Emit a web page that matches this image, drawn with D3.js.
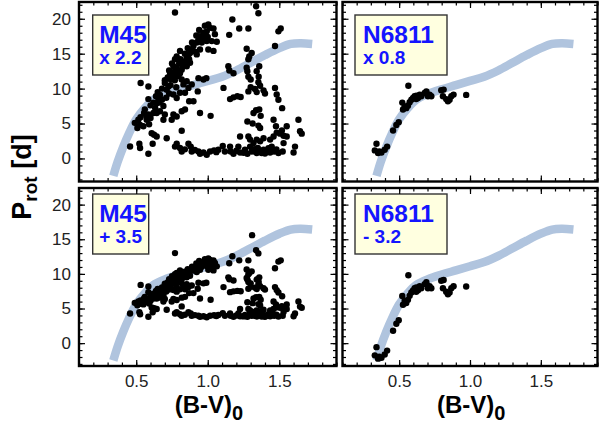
<!DOCTYPE html>
<html><head><meta charset="utf-8">
<script src="https://cdn.jsdelivr.net/npm/d3@7"></script>
<style>body{margin:0;background:#fff} svg{display:block}</style>
</head><body><svg id="c" width="599" height="430"></svg>
<script>
// ---- data ----
const bvTicks = [0.5, 1.0, 1.5];
const pTicks = [0, 5, 10, 15, 20];
const clusterNames = ["M45", "N6811"];
const topNotes = ["x 2.2", "x 0.8"];
const bottomNotes = ["+ 3.5", "- 3.2"];
const m45Scale = 2.2, m45Shift = 3.5, n6811Scale = 0.8, n6811Shift = -3.2;

// gyrochronology reference band (B-V)_0 , P_rot
const curveBV = [0.34,0.37,0.41,0.45,0.5,0.56,0.62,0.7,0.8,0.9,1.0,1.1,1.2,1.3,1.4,1.5,1.58,1.65,1.73];
const curveP  = [-2.5,-0.5,1.7,3.6,5.6,7.2,8.4,9.2,9.9,10.5,11.1,11.7,12.6,13.7,14.8,15.8,16.4,16.5,16.4];

// M45 stars: [(B-V)_0, P_rot scaled x2.2]
const m45Stars = [
[0.457,1.72],[0.522,2.1],[0.527,1.5],[0.585,0.67],[0.615,2.1],[0.49,5.1],[0.515,5.55],[0.527,4.8],
[0.55,4.6],[0.508,4.35],[0.573,5.55],[0.585,6.3],[0.555,6.5],[0.608,3.6],[0.625,3.4],[0.643,3.15],
[0.6,5.8],[0.62,6.5],[0.633,7.2],[0.643,7.9],[0.655,8.4],[0.638,8.9],[0.666,9.1],[0.68,8.4],
[0.69,7.5],[0.666,6.75],[0.7,6.3],[0.713,9.85],[0.725,10.3],[0.7,10.8],[0.741,11.3],[0.76,11.8],
[0.736,12.0],[0.771,12.5],[0.783,13.0],[0.76,13.2],[0.795,11.8],[0.806,12.2],[0.818,12.7],[0.83,13.2],
[0.771,14.2],[0.783,14.6],[0.841,13.9],[0.853,14.4],[0.865,14.9],[0.876,15.1],[0.888,15.6],[0.9,16.1],
[0.923,16.6],[0.935,17.0],[0.946,17.5],[0.97,18.0],[0.981,17.7],[0.993,18.2],[1.004,19.2],[1.016,18.7],
[1.04,18.6],[0.958,16.6],[0.993,16.8],[1.028,16.8],[1.063,16.7],[1.004,15.6],[1.04,15.4],[0.946,15.6],
[0.923,14.9],[0.876,13.7],[0.853,13.2],[0.818,11.3],[0.83,10.6],[0.853,11.05],[0.806,9.4],[0.76,9.15],
[0.783,8.66],[0.841,9.4],[0.865,10.1],[0.888,10.6],[0.935,11.5],[0.97,11.3],[0.9,8.2],[0.946,6.5],
[1.02,6.1],[0.76,6.3],[0.783,6.0],[0.818,6.75],[0.841,7.0],[0.748,5.55],[0.818,3.97],[0.713,2.9],
[0.806,15.4],[0.771,20.9],[0.643,6.5],[0.69,5.55],[0.585,8.5],[0.585,10.3],[0.531,10.8],[0.56,7.0],
[0.6,7.6],[0.62,8.0],[0.65,9.5],[0.68,10.0],[0.7,11.2],[0.72,11.6],[0.73,12.6],[0.75,12.3],
[0.75,13.6],[0.77,11.2],[0.79,12.4],[0.8,13.6],[0.81,14.2],[0.82,13.5],[0.84,15.0],[0.86,15.8],
[0.87,14.2],[0.89,16.6],[0.91,15.3],[0.92,17.6],[0.94,18.4],[0.96,17.2],[0.98,19.0],[1.0,17.4],
[1.05,17.8],[0.53,5.9],[0.57,6.1],[0.59,4.9],[0.66,8.0],[0.71,8.7],[0.73,9.3],[0.74,10.5],
[0.78,10.2],[0.99,11.5],[0.93,9.6],[0.87,8.2],
[0.771,1.7],[0.783,2.1],[0.806,1.5],[0.818,1.0],[0.865,2.1],[0.881,1.7],[0.888,1.0],[0.935,1.0],
[0.946,0.67],[0.97,0.86],[0.993,0.53],[1.016,1.0],[1.044,1.15],[1.074,1.24],[1.105,1.8],[1.12,1.0],
[1.156,1.7],[1.16,1.0],[1.18,0.67],[1.214,1.7],[1.226,0.86],[1.26,1.24],[1.277,0.67],[1.296,1.7],
[1.307,1.0],[1.324,1.34],[1.342,0.77],[1.36,1.15],[1.377,0.77],[1.39,1.24],[1.41,1.0],[1.424,1.48],
[1.436,0.86],[1.447,1.7],[1.464,1.0],[1.494,0.77],[1.524,1.0],[1.53,2.2],[1.6,0.86],[1.61,1.7],
[0.84,1.3],[0.91,1.2],[1.06,0.9],[1.2,1.1],[1.25,0.8],[1.33,1.0],[1.4,0.7],[1.45,1.2],[1.48,1.3],[1.35,1.5],
[1.32,2.2],[1.342,2.7],[1.366,2.45],[1.39,2.9],[1.436,2.7],[1.46,3.15],[1.482,3.7],[1.506,3.55],
[1.518,4.0],[1.53,3.25],[1.552,3.15],[1.477,4.6],[1.552,4.6],[1.645,3.9],[1.657,3.55],[1.634,5.55],
[1.226,3.15],[1.284,3.15],[1.296,2.7],[1.46,5.55],[1.354,4.7],[1.366,4.35],[1.277,5.3],[1.314,5.0],
[1.32,6.5],[1.338,6.9],[1.36,7.0],[1.37,6.1],[1.52,7.2],[1.494,8.4],[1.482,9.15],[1.47,10.1],
[1.47,16.1],[1.494,18.2],[1.51,18.6],[1.15,17.7],[1.172,19.9],[1.22,18.6],[1.284,18.6],[1.338,21.8],
[1.354,20.8],[1.272,15.7],[1.29,14.6],[1.307,15.1],[1.284,14.2],[1.144,13.2],[1.151,12.6],[1.18,12.2],
[1.272,13.0],[1.277,12.5],[1.284,11.7],[1.3,11.3],[1.342,12.5],[1.36,13.2],[1.356,11.7],[1.354,10.9],
[1.366,10.4],[1.33,9.95],[1.342,9.5],[1.39,9.75],[1.4,9.3],[1.11,10.1],[1.156,8.5],[1.18,8.75],
[1.207,8.9],[1.23,8.8],[1.284,9.6],[1.3,10.2],[1.31,26.6]
];

// NGC 6811 stars: [(B-V)_0, P_rot scaled x0.8]
const n6811Stars = [
[0.328,1.15],[0.34,2.1],[0.351,0.77],[0.375,0.86],[0.398,1.24],[0.415,1.7],[0.36,1.0],[0.457,4.0],
[0.48,4.8],[0.497,5.2],[0.527,7.0],[0.522,8.0],[0.539,7.46],[0.562,7.56],[0.574,8.04],[0.586,8.42],
[0.598,8.66],[0.609,8.9],[0.621,9.0],[0.633,8.66],[0.645,9.14],[0.656,8.9],[0.68,9.38],[0.692,9.6],
[0.703,8.9],[0.715,9.14],[0.727,8.9],[0.565,10.4],[0.797,9.76],[0.814,9.86],[0.809,8.9],[0.832,8.5],
[0.844,8.2],[0.856,8.4],[0.868,8.9],[0.884,9.14],[0.973,9.1],[0.55,7.2],[0.62,8.5]
];

// ---- layout ----
const svg = d3.select("#c");
const cols = [{x0:79, x1:336.5}, {x0:342.5, x1:597.5}];
const rows = [{y0:2, y1:181.5}, {y0:188, y1:366}];
const bvDomain = [0.1, 1.9], pDomain = [-3.3, 22.4];
const bvMinor = d3.range(1, 20).map(i => i / 10);
const pMinor = d3.range(-3, 23);
const boxW = [56, 92], boxTextDx = [6.5, 8];
const boxTop = [15, 194];
const font = "'Liberation Sans', Arial, Helvetica, sans-serif";

const panels = [
  {c:0, r:0, stars:m45Stars.map(d => [d[0], d[1]]), name:clusterNames[0], note:topNotes[0]},
  {c:1, r:0, stars:n6811Stars.map(d => [d[0], d[1]]), name:clusterNames[1], note:topNotes[1]},
  {c:0, r:1, stars:m45Stars.map(d => [d[0], d[1] / m45Scale + m45Shift]), name:clusterNames[0], note:bottomNotes[0]},
  {c:1, r:1, stars:n6811Stars.map(d => [d[0], d[1] / n6811Scale + n6811Shift]), name:clusterNames[1], note:bottomNotes[1]}
];

const curve = curveBV.map((b, i) => [b, curveP[i]]);

panels.forEach((p, idx) => {
  const col = cols[p.c], row = rows[p.r];
  const x = d3.scaleLinear().domain(bvDomain).range([col.x0, col.x1]);
  const y = d3.scaleLinear().domain(pDomain).range([row.y1, row.y0]);
  const g = svg.append("g");
  const clipId = "clip" + idx;
  svg.append("clipPath").attr("id", clipId).append("rect")
    .attr("x", col.x0).attr("y", row.y0).attr("width", col.x1 - col.x0).attr("height", row.y1 - row.y0);
  const plot = g.append("g").attr("clip-path", `url(#${clipId})`);

  plot.append("path").datum(curve)
    .attr("d", d3.line().x(d => x(d[0])).y(d => y(d[1])).curve(d3.curveCatmullRom.alpha(0.5)))
    .attr("fill", "none").attr("stroke", "#b0c4de").attr("stroke-width", 8.5);

  plot.selectAll("circle").data(p.stars).join("circle")
    .attr("cx", d => x(d[0])).attr("cy", d => y(d[1])).attr("r", 3.2).attr("fill", "#000");

  // legend box
  const bx = x(bvDomain[0]) + (p.c === 0 ? 13.7 : 12.5);
  const by = boxTop[p.r];
  g.append("rect").attr("x", bx).attr("y", by).attr("width", boxW[p.c]).attr("height", 60)
    .attr("fill", "#ffffe0").attr("stroke", "#333").attr("stroke-width", 1.4);
  g.append("text").attr("x", bx + boxTextDx[p.c]).attr("y", by + 28)
    .attr("font-family", font).attr("font-weight", "bold").attr("font-size", 24.5)
    .attr("fill", "#1414ff").text(p.name);
  g.append("text").attr("x", bx + boxTextDx[p.c]).attr("y", by + 48.5)
    .attr("font-family", font).attr("font-weight", "bold").attr("font-size", 19)
    .attr("fill", "#1414ff").text(p.note);

  // axes (ticks inward on all four sides)
  const mk = (axisFn, scale, vals, size, fmt, pad) =>
    axisFn(scale).tickValues(vals).tickSize(-size).tickSizeOuter(0).tickPadding(pad).tickFormat(fmt);
  const none = () => "";
  const addAxis = (ax, tx, ty) => {
    const a = g.append("g").attr("transform", `translate(${tx},${ty})`).call(ax);
    a.select(".domain").remove();
    a.selectAll("line").attr("stroke", "#000").attr("stroke-width", 1.2);
    a.selectAll("text").attr("font-family", font).attr("font-size", 17).attr("fill", "#222");
  };
  const showX = p.r === 1, showY = p.c === 0;
  addAxis(mk(d3.axisBottom, x, bvMinor, 3.5, none, 0), 0, row.y1);
  addAxis(mk(d3.axisBottom, x, bvTicks, 6, showX ? d3.format(".1f") : none, 9), 0, row.y1);
  addAxis(mk(d3.axisTop, x, bvMinor, 3.5, none, 0), 0, row.y0);
  addAxis(mk(d3.axisTop, x, bvTicks, 6, none, 0), 0, row.y0);
  addAxis(mk(d3.axisLeft, y, pMinor, 3.5, none, 0), col.x0, 0);
  addAxis(mk(d3.axisLeft, y, pTicks, 6, showY ? d3.format("d") : none, 8), col.x0, 0);
  addAxis(mk(d3.axisRight, y, pMinor, 3.5, none, 0), col.x1, 0);
  addAxis(mk(d3.axisRight, y, pTicks, 6, none, 0), col.x1, 0);

  // frame
  g.append("rect").attr("x", col.x0).attr("y", row.y0).attr("width", col.x1 - col.x0).attr("height", row.y1 - row.y0)
    .attr("fill", "none").attr("stroke", "#000").attr("stroke-width", 2.4);

  // x title
  if (p.r === 1) {
    const t = svg.append("text").attr("x", x(1.0) - 33).attr("y", 413)
      .attr("font-family", font).attr("font-weight", "bold").attr("font-size", 24).attr("fill", "#000");
    t.append("tspan").text("(B-V)");
    t.append("tspan").attr("font-size", 20).attr("dy", 7).text("0");
  }
});

// y title
const yt = svg.append("text").attr("transform", "translate(31,177) rotate(-90)")
  .attr("text-anchor", "middle").attr("font-family", font).attr("font-weight", "bold")
  .attr("font-size", 27).attr("fill", "#000");
yt.append("tspan").text("P");
yt.append("tspan").attr("font-size", 19).attr("dy", 6).text("rot");
yt.append("tspan").attr("dy", -6).text(" [d]");
</script></body></html>
